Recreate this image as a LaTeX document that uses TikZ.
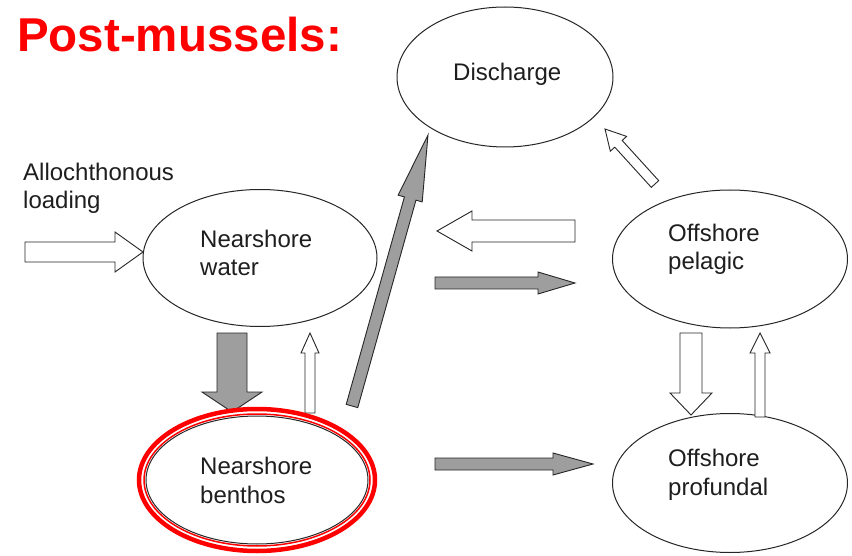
\documentclass[tikz,border=0pt]{standalone}
\usepackage{fontspec}
\setmainfont{Liberation Sans}
\usetikzlibrary{shapes.geometric,calc}
\definecolor{arrgray}{RGB}{158,158,158}
\definecolor{titlered}{RGB}{255,0,0}
\definecolor{inkgray}{RGB}{30,30,30}
\tikzset{
  box/.style={ellipse, draw=black!85, line width=1pt, inner sep=0pt, fill=white},
  txt/.style={anchor=base west, inner sep=0pt, align=left, text=inkgray,
              font=\fontsize{24}{28.5}\selectfont},
  garrow/.style={fill=arrgray, draw=black!85, line width=0.9pt, line join=miter},
  warrow/.style={fill=white, draw=black!85, line width=0.9pt, line join=miter},
}
% style, tail, tip, shaft half-width, head half-width, head length
\newcommand\blockarr[6]{%
  \coordinate (bah) at ($(#3)!#6!(#2)$);
  \draw[#1] ($(#2)!#4!90:(#3)$) -- ($(bah)!#4!90:(#3)$) -- ($(bah)!#5!90:(#3)$)
    -- (#3) -- ($(bah)!#5!-90:(#3)$) -- ($(bah)!#4!-90:(#3)$)
    -- ($(#2)!#4!-90:(#3)$) -- cycle;
}
\begin{document}
\begin{tikzpicture}[x=1pt,y=-1pt]
\useasboundingbox (0,0) rectangle (852,556);
\fill[white] (0,0) rectangle (852,556);

% title
\node[anchor=base west, inner sep=0pt, text=titlered,
      font=\fontsize{47.5}{47.5}\selectfont\bfseries] (title) at (17,52) {Post-mussels:};

% compartments
\node[box, minimum width=216pt, minimum height=140pt] (dis) at (505,77) {};
\node[box, minimum width=234pt, minimum height=137pt] (nw) at (260,258) {};
\node[box, minimum width=235pt, minimum height=138pt] (pel) at (730,259) {};
\node[box, minimum width=222pt, minimum height=128pt] (nb) at (257,480) {};
\node[box, minimum width=235pt, minimum height=139pt] (pro) at (730,483) {};

% (base anchor = baseline of the last line)
\node[txt] (disT) at (453,81) {Discharge};
\node[txt] (nwT) at (200,276) {Nearshore\\water};
\node[txt] (pelT) at (668,270) {Offshore\\pelagic};
\node[txt] (nbT) at (200,503) {Nearshore\\benthos};
\node[txt] (proT) at (668,495) {Offshore\\profundal};
\node[txt] (allT) at (23,209) {Allochthonous\\loading};

% arrow end points
\coordinate (a1t) at (25,252);  \coordinate (a1h) at (143,252);
\coordinate (a2t) at (232,333); \coordinate (a2h) at (232,412);
\coordinate (a3t) at (310,413); \coordinate (a3h) at (310,333);
\coordinate (a4t) at (352,406); \coordinate (a4h) at (428,135);
\coordinate (a5t) at (655,184); \coordinate (a5h) at (605,129);
\coordinate (a6t) at (575,231); \coordinate (a6h) at (437,231);
\coordinate (a7t) at (435,283); \coordinate (a7h) at (575,283);
\coordinate (a8t) at (435,464); \coordinate (a8h) at (593,464);
\coordinate (a9t) at (691,333); \coordinate (a9h) at (691,415);
\coordinate (a10t) at (760,417); \coordinate (a10h) at (760,333);

\blockarr{warrow}{a1t}{a1h}{10pt}{20pt}{28pt}
\blockarr{garrow}{a2t}{a2h}{15pt}{30pt}{20pt}
\blockarr{warrow}{a3t}{a3h}{5pt}{9pt}{20pt}
\blockarr{garrow}{a4t}{a4h}{6pt}{12.5pt}{66pt}
\blockarr{warrow}{a5t}{a5h}{5pt}{11pt}{20pt}
\blockarr{warrow}{a6t}{a6h}{11pt}{20pt}{35pt}
\blockarr{garrow}{a7t}{a7h}{6pt}{11pt}{37pt}
\blockarr{garrow}{a8t}{a8h}{6pt}{11pt}{40pt}
\blockarr{warrow}{a9t}{a9h}{11pt}{21pt}{22pt}
\blockarr{warrow}{a10t}{a10h}{5pt}{10pt}{20pt}

% red highlight around nearshore benthos
\draw[titlered, line width=1.5pt] (nb.center) ellipse [x radius=113, y radius=66];
\draw[titlered, line width=4.5pt] (nb.center) ellipse [x radius=118, y radius=71];
\end{tikzpicture}
\end{document}
